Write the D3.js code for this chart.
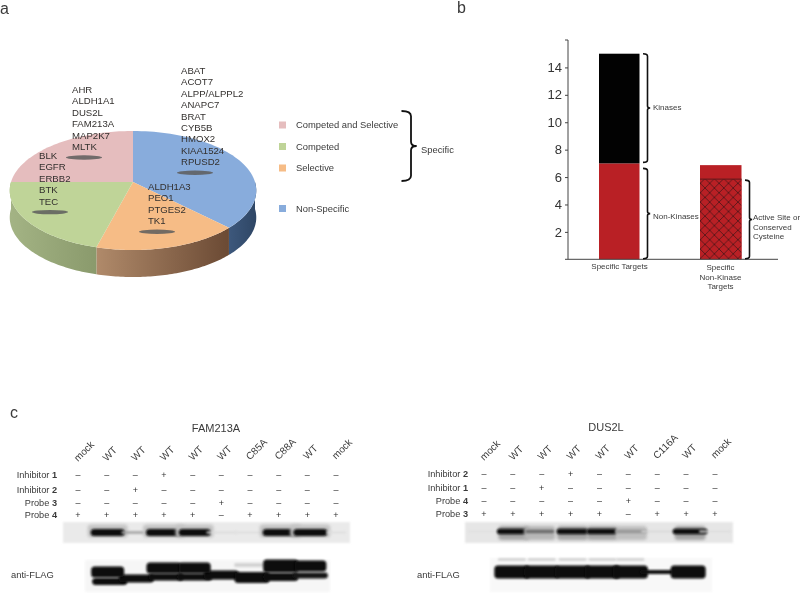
<!DOCTYPE html>
<html><head><meta charset="utf-8">
<script src="https://cdn.jsdelivr.net/npm/d3@7"></script>
<style>html,body{margin:0;background:#fff}svg{display:block;filter:blur(.35px)}text{font-family:"Liberation Sans",Arial,sans-serif;fill:#3a3a3a}</style>
</head><body><svg id="c" width="800" height="594"></svg>
<script>
// ---- panel a data
const pieCategories=["Non-Specific","Selective","Competed","Competed and Selective"];
const pieValues=[9,4,5,6];
const pieTop=["#88acdc","#f6bc86","#bfd498","#e5bdbe"];
const pieSideLight=["#3d587c","#b08a6a","#a3b384","#a3b384"];
const pieSideDark=["#2f4766","#6b4a34","#8a9a6c","#8a9a6c"];
const legendNames=["Competed and Selective","Competed","Selective","Non-Specific"];
const legendColors=["#e5bdbe","#bfd498","#f6bc86","#88acdc"];
const geneGroups=[
 ["AHR","ALDH1A1","DUS2L","FAM213A","MAP2K7","MLTK"],
 ["BLK","EGFR","ERBB2","BTK","TEC"],
 ["ABAT","ACOT7","ALPP/ALPPL2","ANAPC7","BRAT","CYB5B","HMOX2","KIAA1524","RPUSD2"],
 ["ALDH1A3","PEO1","PTGES2","TK1"]];
// ---- panel b data
const barCategories=["Specific Targets","Specific Non-Kinase Targets"];
const nonKinases=[7,6.87];
const kinases=[8,0];
const hatched=[0,5.85];
const yTicks=[2,4,6,8,10,12,14];
// ---- panel c data
const famLanes=["mock","WT","WT","WT","WT","WT","C85A","C88A","WT","mock"];
const famRows=["Inhibitor 1","Inhibitor 2","Probe 3","Probe 4"];
const famM=[[0,0,0,1,0,0,0,0,0,0],[0,0,1,0,0,0,0,0,0,0],[0,0,0,0,0,1,0,0,0,0],[1,1,1,1,1,0,1,1,1,1]];
const famGel=[.02,1,.3,1,1,.04,.03,1,1,.03];
const famFlagUpper=[0,1,0,1,1,0,.08,1,1,0];
const famFlagUpperPos=[0,10,0,6,6,0,3,4,4,0];
const famFlagLowerPos=[0,19.5,16.5,15,15,13,15.5,15,13.5,0];
const famFlagLower=[0,1,1,1,1,1,1,1,.95,0];
const dusLanes=["mock","WT","WT","WT","WT","WT","C116A","WT","mock"];
const dusRows=["Inhibitor 2","Inhibitor 1","Probe 4","Probe 3"];
const dusM=[[0,0,0,1,0,0,0,0,0],[0,0,1,0,0,0,0,0,0],[0,0,0,0,0,1,0,0,0],[1,1,1,1,1,0,1,1,1]];
const dusGel=[.02,1,.55,1,1,.35,.05,1,.03];
const dusFlag=[0,1,1,1,1,1,.5,1,0];

const svg=d3.select("#c");
const defs=svg.append("defs");
[["b05",.5],["b1",.8],["b2",1.6],["b3",3]].forEach(([id,s])=>defs.append("filter").attr("id",id)
  .attr("x","-20%").attr("y","-100%").attr("width","140%").attr("height","300%")
  .append("feGaussianBlur").attr("stdDeviation",s));
const hp=defs.append("pattern").attr("id","hatch").attr("width",9.4).attr("height",9.4)
  .attr("patternUnits","userSpaceOnUse");
hp.append("rect").attr("width",9.4).attr("height",9.4).attr("fill","#b92025");
hp.append("path").attr("d","M0,0L9.4,9.4M9.4,0L0,9.4").attr("stroke","#4a1518").attr("stroke-width",.8);

function label(g,t,x,y,size,anchor){return g.append("text").attr("x",x).attr("y",y)
  .attr("font-size",size).attr("text-anchor",anchor||"start").text(t);}
label(svg,"a",0,14,16);label(svg,"b",457,13,16);label(svg,"c",10,418,16);

// ---- pie with perspective tilt
const pa=svg.append("g");
const cx=133,cy=182,R=122,A=58.3,K=1/7,depth=27;
function proj(th,dy){const t=-Math.cos(th),d=1-K*t;return [cx+R*Math.sin(th)/d,cy+A*t/d+(dy||0)];}
const arcs=d3.pie().sort(null)(pieValues);
const line=d3.line();
const steps=(a,b)=>d3.range(0,61).map(i=>a+(b-a)*i/60);
arcs.forEach((s,i)=>{
  const a=Math.max(s.startAngle,Math.PI/2),b=Math.min(s.endAngle,Math.PI*1.5);
  if(a>=b)return;
  const id="side"+i;
  const gr=defs.append("linearGradient").attr("id",id).attr("gradientUnits","userSpaceOnUse")
    .attr("x1",proj(a)[0]).attr("x2",proj(b)[0]).attr("y1",0).attr("y2",0);
  gr.append("stop").attr("offset",0).attr("stop-color",pieSideDark[i]);
  gr.append("stop").attr("offset",1).attr("stop-color",pieSideLight[i]);
  const top=steps(a,b).map(t=>proj(t,0)),bot=steps(b,a).map(t=>proj(t,depth));
  pa.append("path").attr("d",line(top.concat(bot))+"Z").attr("fill",`url(#${id})`);
});
arcs.forEach((s,i)=>{
  const pts=[[cx,cy]].concat(steps(s.startAngle,s.endAngle).map(t=>proj(t,0)));
  pa.append("path").attr("d",line(pts)+"Z").attr("fill",pieTop[i]);
});
const geneAnchors=[[72,93],[39,159],[181,74],[148,190]];
const shadowShift=[12,11,14,9];
const rowStep=11.4;
geneGroups.forEach((g,i)=>{
  const [x,y]=geneAnchors[i];
  pa.append("ellipse").attr("cx",x+shadowShift[i]).attr("cy",y+rowStep*(g.length-1)+7.5)
    .attr("rx",18).attr("ry",2.2).attr("fill","#5d5d5d").attr("opacity",.85).attr("filter","url(#b05)");
  g.forEach((t,j)=>label(pa,t,x,y+j*rowStep,9.6).style("fill","#33302e"));
});

// legend
const lg=svg.append("g");
const legY=d3.scaleOrdinal().domain(legendNames).range([125,146.5,168,208.5]);
legendNames.forEach((n,i)=>{
  lg.append("rect").attr("x",279).attr("y",legY(n)-3.5).attr("width",7).attr("height",7).attr("fill",legendColors[i]);
  label(lg,n,296,legY(n)+3.3,9.4);
});
function brace(g,x,y0,y1,w,sw){
  const m=(y0+y1)/2,r=Math.min(w*.45,6);
  const d=`M${x},${y0}Q${x+w},${y0} ${x+w},${y0+r*1.2}L${x+w},${m-r}Q${x+w},${m} ${x+w*1.6},${m}Q${x+w},${m} ${x+w},${m+r}L${x+w},${y1-r*1.2}Q${x+w},${y1} ${x},${y1}`;
  g.append("path").attr("d",d).attr("fill","none").attr("stroke","#111").attr("stroke-width",sw);
}
brace(lg,401.5,111,181,9.5,1.8);
label(lg,"Specific",421,153,9.4);

// ---- panel b
const pb=svg.append("g");
const y=d3.scaleLinear().domain([0,16]).range([259.3,40]);
const xPos=d3.scaleOrdinal().domain(barCategories).range([599,700]);
const bw=40.5;
barCategories.forEach((c,i)=>{
  pb.append("rect").attr("x",xPos(c)).attr("width",i?bw+1:bw).attr("y",y(nonKinases[i])).attr("height",y(0)-y(nonKinases[i])).attr("fill","#b92025");
  if(kinases[i])pb.append("rect").attr("x",xPos(c)).attr("width",bw).attr("y",y(nonKinases[i]+kinases[i])).attr("height",y(0)-y(kinases[i])).attr("fill","#020202");
  if(hatched[i]){
    pb.append("rect").attr("x",xPos(c)).attr("width",bw+1).attr("y",y(hatched[i])).attr("height",y(0)-y(hatched[i])).attr("fill","url(#hatch)");
    pb.append("line").attr("x1",xPos(c)).attr("x2",xPos(c)+bw+1).attr("y1",y(hatched[i])).attr("y2",y(hatched[i])).attr("stroke","#5a1a1c").attr("stroke-width",1);
  }
});
const ax=pb.append("g").attr("transform","translate(568,0)").call(d3.axisLeft(y).tickValues(yTicks).tickSize(3).tickFormat(d3.format("d")));
ax.select(".domain").attr("stroke","#444").attr("stroke-width",1).attr("d",`M0,${y.range()[1]}H-3M0,${y.range()[1]}V${y(0)}`);
ax.selectAll(".tick line").attr("stroke","#444");
ax.selectAll(".tick text").attr("font-size",13).attr("x",-6).attr("font-family","Liberation Sans").style("fill","#333");
pb.append("line").attr("x1",565).attr("x2",778).attr("y1",y(0)).attr("y2",y(0)).attr("stroke","#444").attr("stroke-width",1);
brace(pb,643,y(15),y(7)-1,4.5,1.6);
brace(pb,643,y(7)+5,y(0)-.5,4.5,1.6);
brace(pb,745,y(hatched[1])+1,y(0)-.5,4.5,1.6);
label(pb,"Kinases",653,110,8);
label(pb,"Non-Kinases",653,219,8);
["Active Site or","Conserved","Cysteine"].forEach((t,i)=>label(pb,t,753,220+i*9.7,8));
label(pb,"Specific Targets",619.5,269,8,"middle");
["Specific","Non-Kinase","Targets"].forEach((t,i)=>label(pb,t,720.5,270+i*9.6,8,"middle"));

// ---- panel c
function markRows(g,rows,M,lx,ys,labelX){
  rows.forEach((r,i)=>{
    const parts=r.split(" ");
    const tx=g.append("text").attr("x",labelX).attr("y",ys[i]+3.3).attr("font-size",9.2).attr("text-anchor","end");
    tx.append("tspan").text(parts[0]+" ");
    tx.append("tspan").attr("font-weight","bold").text(parts[1]);
    M[i].forEach((v,j)=>g.append("text").attr("x",lx(j)).attr("y",ys[i]+3).attr("font-size",9).attr("text-anchor","middle").text(v?"+":"\u2013").style("fill","#333"));
  });
}
function laneLabels(g,lanes,lx,y0){
  lanes.forEach((t,j)=>g.append("text").attr("font-size",10)
    .attr("transform",`translate(${lx(j)},${y0-j*.25}) rotate(-45)`).text(t));
}
function gelBack(g,x0,x1,y0,y1,c,op){
  g.append("rect").attr("x",x0).attr("y",y0).attr("width",x1-x0).attr("height",y1-y0).attr("fill",c).attr("opacity",op).attr("filter","url(#b1)");
}
function band(g,xc,w,yc,h,v,blur){
  if(v<=0)return;
  const gray=d3.interpolateRgb("#e4e4e4","#0a0a0a")(Math.min(1,v));
  const r=Math.min(h/2,3.5);
  g.append("rect").attr("x",xc-w/2).attr("y",yc-h/2).attr("width",w).attr("height",h).attr("rx",r).attr("ry",r)
   .attr("fill",gray).attr("filter",`url(#${blur||"b1"})`);
}
// FAM213A
const pf=svg.append("g");
const fx=d3.scaleLinear().domain([0,9]).range([78,336]);
const famShift=[0,1,0,0,2,0,0,2,3,0];
const famGelW=[0,34,28,36,32,30,30,36,34,20];
label(pf,"FAM213A",216,432,11,"middle");
laneLabels(pf,famLanes,fx,462);
markRows(pf,famRows,famM,fx,[475,490,502.5,515],57);
gelBack(pf,63,350,522,543,"#e8e8e8",.9);
famGel.forEach((v,j)=>{
  if(v>.5)band(pf,fx(j)+famShift[j],famGelW[j]+6,531,13,.14,"b2");
  band(pf,fx(j)+famShift[j],famGelW[j],532.5,v>.5?7:v>.2?2.5:2,v);
});
gelBack(pf,85,330,560,592,"#f4f4f4",.8);
const flagY=d3.scaleLinear().domain([0,20]).range([562,582]);
const famLowH=[0,7,8,7,7,9,11,8,6,0];
const famLowS=[0,3,1,2,2,0,2,2,3,0];
famFlagLower.forEach((v,j)=>band(pf,fx(j)+famLowS[j],35,flagY(famFlagLowerPos[j]),famLowH[j],v));
famFlagUpper.forEach((v,j)=>band(pf,fx(j)+famShift[j],j==1?33:j==3||j==7?35:32,flagY(famFlagUpperPos[j]),v<.5?4:j==7?13:11,v));
label(pf,"anti-FLAG",11,578,9.4);
// DUS2L
const pd=svg.append("g");
const dx=d3.scaleLinear().domain([0,8]).range([484,715]);
const dusShift=[0,1,-2,2,3,3,0,4,0];
const dusFlagShift=[0,-1,0,2,3,2,0,2,0];
label(pd,"DUS2L",606,431,11,"middle");
laneLabels(pd,dusLanes,dx,461);
markRows(pd,dusRows,dusM,dx,[474,488,501,514],468);
gelBack(pd,465,733,522,543,"#e4e4e4",.9);
dusGel.forEach((v,j)=>{
  if(j>0&&j<6||j==7)band(pd,dx(j)+dusShift[j],31,533,14,.18*(v+.6),"b2");
  band(pd,dx(j)+dusShift[j],j==1?34:j==7?35:j==2?29:32,531.5,v>.8?5.5:v>.2?3.5:2,v);
});
gelBack(pd,490,712,558,592,"#f5f5f5",.7);
[1,2,3,4,5].forEach(j=>band(pd,dx(j)+dusFlagShift[j],28,559.5,2,.14,"b1"));
dusFlag.forEach((v,j)=>band(pd,dx(j)+dusFlagShift[j],35,572,v<.6?4:13,v?1:0));
label(pd,"anti-FLAG",417,578,9.4);
</script></body></html>
